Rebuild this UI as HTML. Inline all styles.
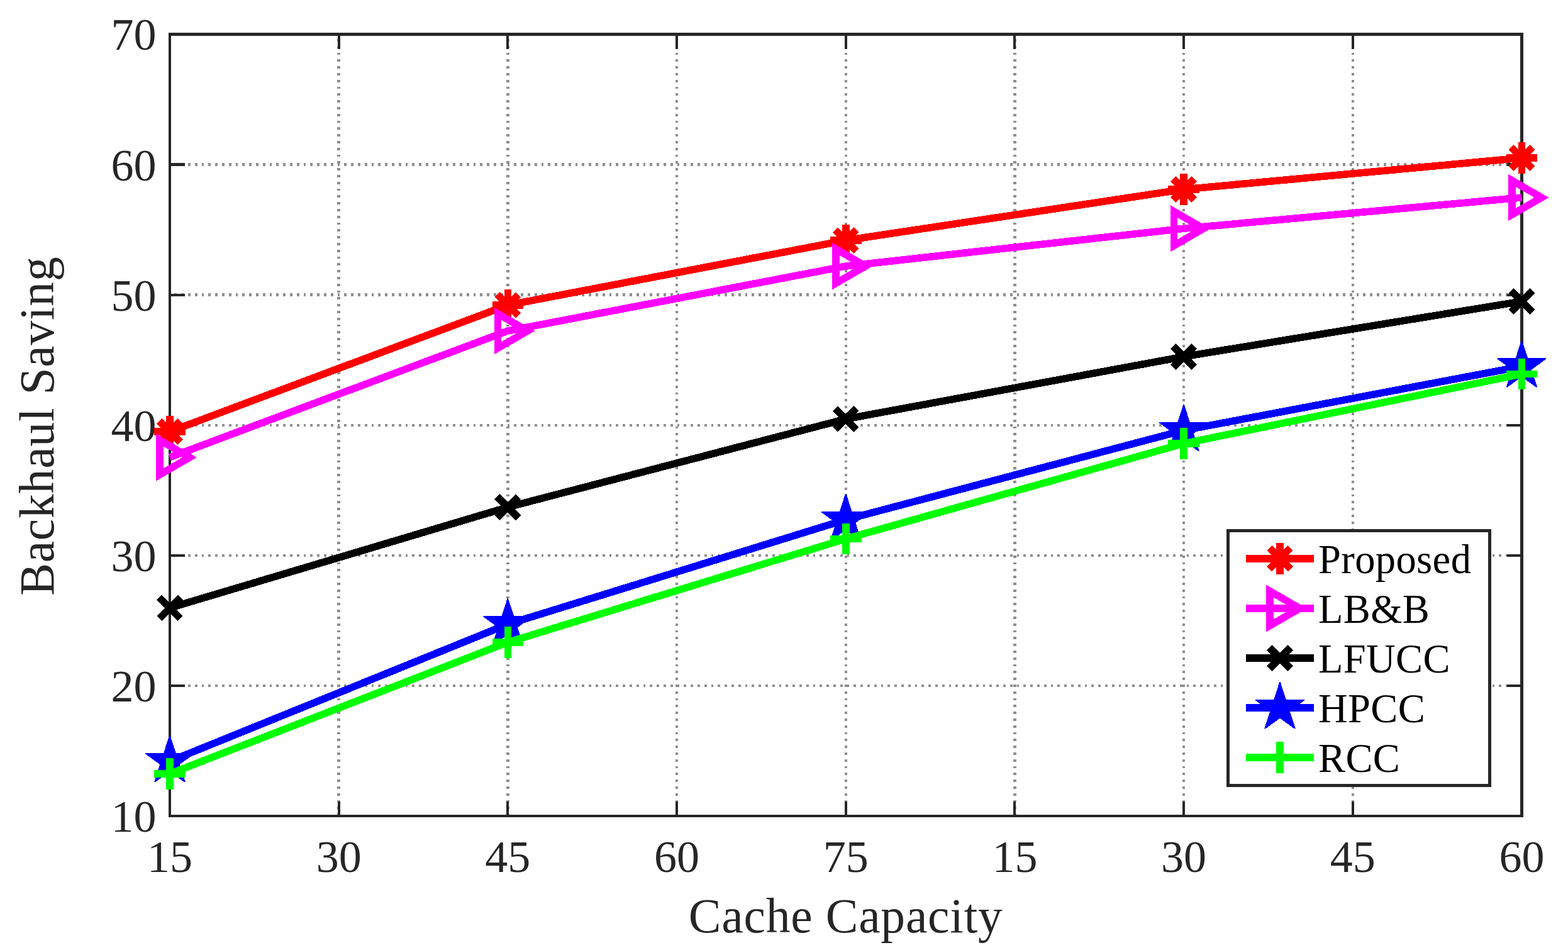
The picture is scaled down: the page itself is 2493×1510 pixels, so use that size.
<!DOCTYPE html>
<html lang="en"><head><meta charset="utf-8"><title>Backhaul Saving vs Cache Capacity</title>
<style>html,body{margin:0;padding:0;background:#fff}body{width:2493px;height:1510px;overflow:hidden}svg{display:block}text{font-family:'Liberation Serif', serif}</style></head><body>
<svg width="2493" height="1510" viewBox="0 0 2493 1510" role="img" aria-label="Backhaul Saving versus Cache Capacity">
<rect width="2493" height="1510" fill="#ffffff"/>
<g stroke="#8f8f8f" stroke-width="4.4" fill="none" stroke-dasharray="3.8 7" stroke-dashoffset="-7.5" shape-rendering="crispEdges">
<line x1="538.64" y1="54.45" x2="538.64" y2="1296.95"/>
<line x1="807.33" y1="54.45" x2="807.33" y2="1296.95"/>
<line x1="1076.01" y1="54.45" x2="1076.01" y2="1296.95"/>
<line x1="1344.7" y1="54.45" x2="1344.7" y2="1296.95"/>
<line x1="1613.39" y1="54.45" x2="1613.39" y2="1296.95"/>
<line x1="1882.08" y1="54.45" x2="1882.08" y2="1296.95"/>
<line x1="2150.76" y1="54.45" x2="2150.76" y2="1296.95"/>
<line x1="269.95" y1="261.53" x2="2419.45" y2="261.53"/>
<line x1="269.95" y1="468.62" x2="2419.45" y2="468.62"/>
<line x1="269.95" y1="675.7" x2="2419.45" y2="675.7"/>
<line x1="269.95" y1="882.78" x2="2419.45" y2="882.78"/>
<line x1="269.95" y1="1089.87" x2="2419.45" y2="1089.87"/>
</g>
<g stroke="#262626" stroke-width="4.2" fill="none" shape-rendering="crispEdges">
<rect x="269.95" y="54.45" width="2149.5" height="1242.5"/>
<path d="M538.64 1296.95V1273.55M538.64 54.45V77.85M807.33 1296.95V1273.55M807.33 54.45V77.85M1076.01 1296.95V1273.55M1076.01 54.45V77.85M1344.7 1296.95V1273.55M1344.7 54.45V77.85M1613.39 1296.95V1273.55M1613.39 54.45V77.85M1882.08 1296.95V1273.55M1882.08 54.45V77.85M2150.76 1296.95V1273.55M2150.76 54.45V77.85M269.95 261.53H293.85M2419.45 261.53H2395.55M269.95 468.62H293.85M2419.45 468.62H2395.55M269.95 675.7H293.85M2419.45 675.7H2395.55M269.95 882.78H293.85M2419.45 882.78H2395.55M269.95 1089.87H293.85M2419.45 1089.87H2395.55"/>
</g>
<g fill="#262626" font-size="72px">
<text x="269.95" y="1386.3" text-anchor="middle">15</text>
<text x="538.64" y="1386.3" text-anchor="middle">30</text>
<text x="807.33" y="1386.3" text-anchor="middle">45</text>
<text x="1076.01" y="1386.3" text-anchor="middle">60</text>
<text x="1344.7" y="1386.3" text-anchor="middle">75</text>
<text x="1613.39" y="1386.3" text-anchor="middle">15</text>
<text x="1882.08" y="1386.3" text-anchor="middle">30</text>
<text x="2150.76" y="1386.3" text-anchor="middle">45</text>
<text x="2419.45" y="1386.3" text-anchor="middle">60</text>
<text x="248.4" y="79.45" text-anchor="end">70</text>
<text x="248.4" y="286.53" text-anchor="end">60</text>
<text x="248.4" y="493.62" text-anchor="end">50</text>
<text x="248.4" y="700.7" text-anchor="end">40</text>
<text x="248.4" y="907.78" text-anchor="end">30</text>
<text x="248.4" y="1114.87" text-anchor="end">20</text>
<text x="248.4" y="1321.95" text-anchor="end">10</text>
</g>
<g fill="#262626" font-size="77.5px" letter-spacing="0.8">
<text x="1344.7" y="1482.3" text-anchor="middle">Cache Capacity</text>
<text transform="translate(84.6 677.2) rotate(-90)" text-anchor="middle">Backhaul Saving</text>
</g>
<g shape-rendering="crispEdges">
<polyline points="269.95,686 807.33,485 1344.7,382 1882.08,301 2419.45,251" stroke="#ff0000" stroke-width="11.6" fill="none" stroke-linejoin="round"/>
<path d="M245.15 686H294.75M269.95 661.2V710.8M253.15 669.2L286.75 702.8M253.15 702.8L286.75 669.2" stroke="#ff0000" stroke-width="11.6" fill="none"/>
<path d="M782.53 485H832.12M807.33 460.2V509.8M790.53 468.2L824.12 501.8M790.53 501.8L824.12 468.2" stroke="#ff0000" stroke-width="11.6" fill="none"/>
<path d="M1319.9 382H1369.5M1344.7 357.2V406.8M1327.9 365.2L1361.5 398.8M1327.9 398.8L1361.5 365.2" stroke="#ff0000" stroke-width="11.6" fill="none"/>
<path d="M1857.28 301H1906.88M1882.08 276.2V325.8M1865.28 284.2L1898.88 317.8M1865.28 317.8L1898.88 284.2" stroke="#ff0000" stroke-width="11.6" fill="none"/>
<path d="M2394.65 251H2444.25M2419.45 226.2V275.8M2402.65 234.2L2436.25 267.8M2402.65 267.8L2436.25 234.2" stroke="#ff0000" stroke-width="11.6" fill="none"/>
<polyline points="269.95,727 807.33,526 1344.7,423 1882.08,363.25 2419.45,314" stroke="#ff00ff" stroke-width="11.6" fill="none" stroke-linejoin="round"/>
<polygon points="301.45,727 254.2,754.28 254.2,699.72" stroke="#ff00ff" stroke-width="11.6" fill="none" stroke-linejoin="miter" stroke-miterlimit="10"/>
<polygon points="838.83,526 791.58,553.28 791.58,498.72" stroke="#ff00ff" stroke-width="11.6" fill="none" stroke-linejoin="miter" stroke-miterlimit="10"/>
<polygon points="1376.2,423 1328.95,450.28 1328.95,395.72" stroke="#ff00ff" stroke-width="11.6" fill="none" stroke-linejoin="miter" stroke-miterlimit="10"/>
<polygon points="1913.58,363.25 1866.33,390.53 1866.33,335.97" stroke="#ff00ff" stroke-width="11.6" fill="none" stroke-linejoin="miter" stroke-miterlimit="10"/>
<polygon points="2450.95,314 2403.7,341.28 2403.7,286.72" stroke="#ff00ff" stroke-width="11.6" fill="none" stroke-linejoin="miter" stroke-miterlimit="10"/>
<polyline points="269.95,966.3 807.33,806.2 1344.7,666 1882.08,566.9 2419.45,479" stroke="#000000" stroke-width="11.6" fill="none" stroke-linejoin="round"/>
<path d="M253.15 949.5L286.75 983.1M253.15 983.1L286.75 949.5" stroke="#000000" stroke-width="11.6" fill="none"/>
<path d="M790.53 789.4L824.12 823M790.53 823L824.12 789.4" stroke="#000000" stroke-width="11.6" fill="none"/>
<path d="M1327.9 649.2L1361.5 682.8M1327.9 682.8L1361.5 649.2" stroke="#000000" stroke-width="11.6" fill="none"/>
<path d="M1865.28 550.1L1898.88 583.7M1865.28 583.7L1898.88 550.1" stroke="#000000" stroke-width="11.6" fill="none"/>
<path d="M2402.65 462.2L2436.25 495.8M2402.65 495.8L2436.25 462.2" stroke="#000000" stroke-width="11.6" fill="none"/>
<polyline points="269.95,1210 807.33,992.2 1344.7,826 1882.08,684 2419.45,582.4" stroke="#0000ff" stroke-width="11.6" fill="none" stroke-linejoin="round"/>
<polygon points="260.23,1196.62 269.14,1169.2 270.76,1169.2 279.67,1196.62 308.5,1196.62 309,1198.16 285.68,1215.11 294.59,1242.53 293.27,1243.49 269.95,1226.54 246.63,1243.49 245.31,1242.53 254.22,1215.11 230.9,1198.16 231.4,1196.62" fill="#0000ff"/>
<polygon points="797.6,978.82 806.51,951.4 808.14,951.4 817.05,978.82 845.88,978.82 846.38,980.36 823.05,997.31 831.96,1024.73 830.65,1025.69 807.33,1008.74 784,1025.69 782.69,1024.73 791.6,997.31 768.27,980.36 768.77,978.82" fill="#0000ff"/>
<polygon points="1334.98,812.62 1343.89,785.2 1345.51,785.2 1354.42,812.62 1383.25,812.62 1383.75,814.16 1360.43,831.11 1369.34,858.53 1368.02,859.49 1344.7,842.54 1321.38,859.49 1320.06,858.53 1328.97,831.11 1305.65,814.16 1306.15,812.62" fill="#0000ff"/>
<polygon points="1872.35,670.62 1881.26,643.2 1882.89,643.2 1891.8,670.62 1920.63,670.62 1921.13,672.16 1897.8,689.11 1906.71,716.53 1905.4,717.49 1882.08,700.54 1858.75,717.49 1857.44,716.53 1866.35,689.11 1843.02,672.16 1843.52,670.62" fill="#0000ff"/>
<polygon points="2409.73,569.02 2418.64,541.6 2420.26,541.6 2429.17,569.02 2458,569.02 2458.5,570.56 2435.18,587.51 2444.09,614.93 2442.77,615.89 2419.45,598.94 2396.13,615.89 2394.81,614.93 2403.72,587.51 2380.4,570.56 2380.9,569.02" fill="#0000ff"/>
<polyline points="269.95,1230 807.33,1020.9 1344.7,856.5 1882.08,705 2419.45,594.5" stroke="#00ff00" stroke-width="11.6" fill="none" stroke-linejoin="round"/>
<path d="M245.15 1230H294.75M269.95 1205.2V1254.8" stroke="#00ff00" stroke-width="11.6" fill="none"/>
<path d="M782.53 1020.9H832.12M807.33 996.1V1045.7" stroke="#00ff00" stroke-width="11.6" fill="none"/>
<path d="M1319.9 856.5H1369.5M1344.7 831.7V881.3" stroke="#00ff00" stroke-width="11.6" fill="none"/>
<path d="M1857.28 705H1906.88M1882.08 680.2V729.8" stroke="#00ff00" stroke-width="11.6" fill="none"/>
<path d="M2394.65 594.5H2444.25M2419.45 569.7V619.3" stroke="#00ff00" stroke-width="11.6" fill="none"/>
</g>
<rect x="1952.5" y="843.5" width="416" height="404.5" fill="#ffffff" stroke="#262626" stroke-width="5" shape-rendering="crispEdges"/>
<g shape-rendering="crispEdges">
<line x1="1981" y1="887.7" x2="2089" y2="887.7" stroke="#ff0000" stroke-width="11.6"/>
<path d="M2010.2 887.7H2059.8M2035 862.9V912.5M2018.2 870.9L2051.8 904.5M2018.2 904.5L2051.8 870.9" stroke="#ff0000" stroke-width="11.6" fill="none"/>
<line x1="1981" y1="967" x2="2089" y2="967" stroke="#ff00ff" stroke-width="11.6"/>
<polygon points="2066.5,967 2019.25,994.28 2019.25,939.72" stroke="#ff00ff" stroke-width="11.6" fill="none" stroke-linejoin="miter" stroke-miterlimit="10"/>
<line x1="1981" y1="1046" x2="2089" y2="1046" stroke="#000000" stroke-width="11.6"/>
<path d="M2018.2 1029.2L2051.8 1062.8M2018.2 1062.8L2051.8 1029.2" stroke="#000000" stroke-width="11.6" fill="none"/>
<line x1="1981" y1="1125.1" x2="2089" y2="1125.1" stroke="#0000ff" stroke-width="11.6"/>
<polygon points="2025.28,1111.72 2034.19,1084.3 2035.81,1084.3 2044.72,1111.72 2073.55,1111.72 2074.05,1113.26 2050.73,1130.21 2059.64,1157.63 2058.32,1158.59 2035,1141.64 2011.68,1158.59 2010.36,1157.63 2019.27,1130.21 1995.95,1113.26 1996.45,1111.72" fill="#0000ff"/>
<line x1="1981" y1="1204.2" x2="2089" y2="1204.2" stroke="#00ff00" stroke-width="11.6"/>
<path d="M2010.2 1204.2H2059.8M2035 1179.4V1229" stroke="#00ff00" stroke-width="11.6" fill="none"/>
</g>
<g fill="#000000" font-size="64.5px" letter-spacing="0.4">
<text x="2096" y="910.9">Proposed</text>
<text x="2096" y="990.2">LB&amp;B</text>
<text x="2096" y="1069.2">LFUCC</text>
<text x="2096" y="1148.3">HPCC</text>
<text x="2096" y="1227.4">RCC</text>
</g>
</svg></body></html>
